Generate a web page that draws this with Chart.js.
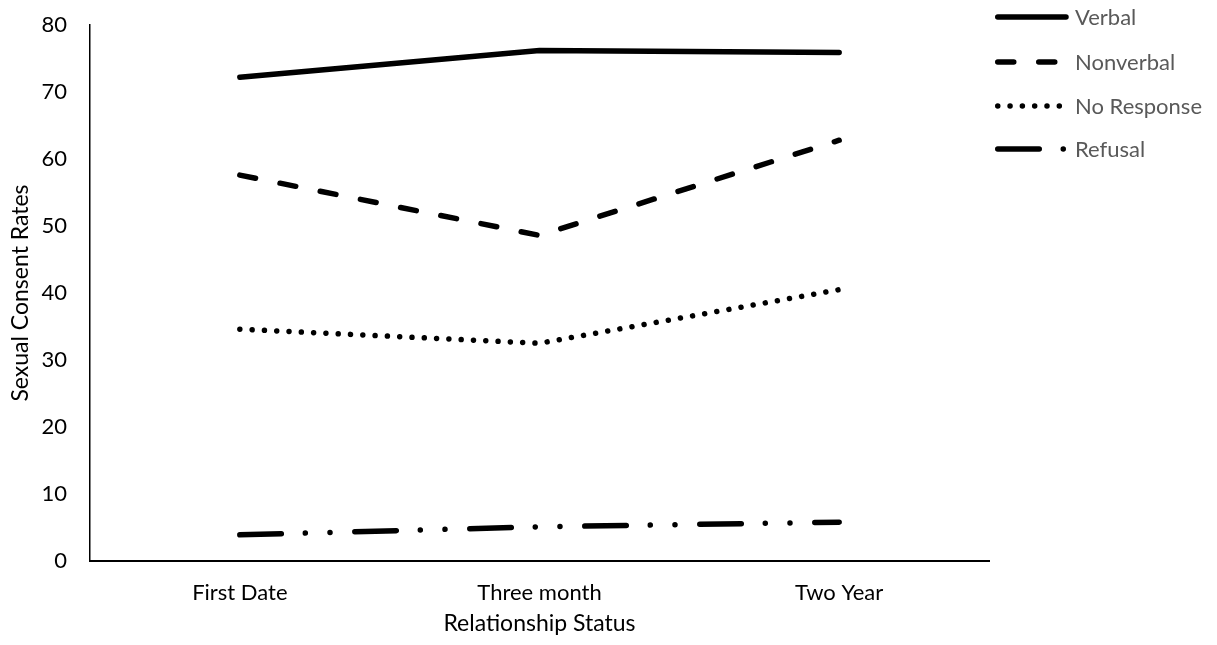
<!DOCTYPE html>
<html>
<head>
<meta charset="utf-8">
<script src="https://cdn.jsdelivr.net/npm/chart.js@4.4.1/dist/chart.umd.min.js"></script>
<style>
  html, body { margin: 0; padding: 0; background: #fff; }
  #wrap { width: 1217px; height: 645px; }
</style>
</head>
<body>
<div id="wrap"><canvas id="chart" width="1217" height="645"></canvas></div>
<script>
// Relationship stages along the x axis
const categories = ['First Date', 'Three month', 'Two Year'];

// Consent rates per response type
const verbal     = [72.2, 76.2, 75.9];
const nonverbal  = [57.6, 48.6, 62.8];
const noResponse = [34.6, 32.5, 40.5];
const refusal    = [3.9, 5.1, 5.8];

const seriesNames = ['Verbal', 'Nonverbal', 'No Response', 'Refusal'];
const yTicks = [0, 10, 20, 30, 40, 50, 60, 70, 80];

const FONT = 'Lato, "Liberation Sans", sans-serif';
const LINE_W = 5.5;

// Dash patterns for each series
const dashes = [
  [],
  [16, 25],
  [0.01, 12.3],
  [41.5, 24, 0.01, 24.7, 0.01, 24.8]
];

const seriesValues = [verbal, nonverbal, noResponse, refusal];

const datasets = seriesNames.map((name, i) => ({
  label: name,
  data: seriesValues[i],
  borderColor: '#000',
  backgroundColor: '#000',
  borderWidth: LINE_W,
  borderDash: dashes[i],
  borderCapStyle: 'round',
  borderJoinStyle: 'round',
  pointRadius: 0,
  pointHoverRadius: 0,
  tension: 0,
  fill: false
}));

// Legend on the right: a line sample followed by the series name
const sideLegend = {
  id: 'sideLegend',
  afterDraw(chart) {
    const ctx = chart.ctx;
    const rows = [17, 62, 106, 149];
    const x0 = 995, x1 = 1066, tx = 1075;
    ctx.save();
    chart.data.datasets.forEach((ds, i) => {
      const y = rows[i];
      ctx.beginPath();
      ctx.lineWidth = ds.borderWidth;
      ctx.strokeStyle = ds.borderColor;
      ctx.lineCap = 'round';
      ctx.setLineDash(ds.borderDash || []);
      ctx.moveTo(x0 + LINE_W / 2, y);
      ctx.lineTo(x1, y);
      ctx.stroke();
      ctx.setLineDash([]);
      ctx.fillStyle = '#595959';
      ctx.font = '22px ' + FONT;
      ctx.textAlign = 'left';
      ctx.textBaseline = 'middle';
      ctx.fillText(ds.label, tx, y + 1);
    });
    ctx.restore();
  }
};

new Chart(document.getElementById('chart'), {
  type: 'line',
  data: { labels: categories, datasets },
  plugins: [sideLegend],
  options: {
    responsive: false,
    animation: false,
    devicePixelRatio: 1,
    layout: { padding: { left: 0, right: 228, top: 25, bottom: 0 } },
    plugins: {
      legend: { display: false },
      tooltip: { enabled: false },
      title: { display: false }
    },
    scales: {
      x: {
        offset: true,
        grid: { display: false, drawTicks: false },
        border: { display: true, color: '#000', width: 2 },
        ticks: { color: '#000', font: { family: FONT, size: 22 }, padding: 19 },
        title: {
          display: true,
          text: 'Relationship Status',
          color: '#000',
          font: { family: FONT, size: 23 },
          padding: { top: 0, bottom: 8 }
        },
        afterFit(s) { s.height = 84; s.paddingLeft = 0; s.paddingRight = 0; }
      },
      y: {
        min: 0,
        max: 80,
        afterBuildTicks(s) { s.ticks = yTicks.map(v => ({ value: v })); },
        grid: { display: false, drawTicks: false },
        border: { display: true, color: '#000', width: 1.5 },
        ticks: { color: '#000', font: { family: FONT, size: 22 }, padding: 23 },
        title: {
          display: true,
          text: 'Sexual Consent Rates',
          color: '#000',
          font: { family: FONT, size: 23 },
          padding: { top: 7, bottom: 0 }
        },
        afterFit(s) { s.width = 90; s.paddingTop = 0; s.paddingBottom = 0; }
      }
    }
  }
});
</script>
</body>
</html>
